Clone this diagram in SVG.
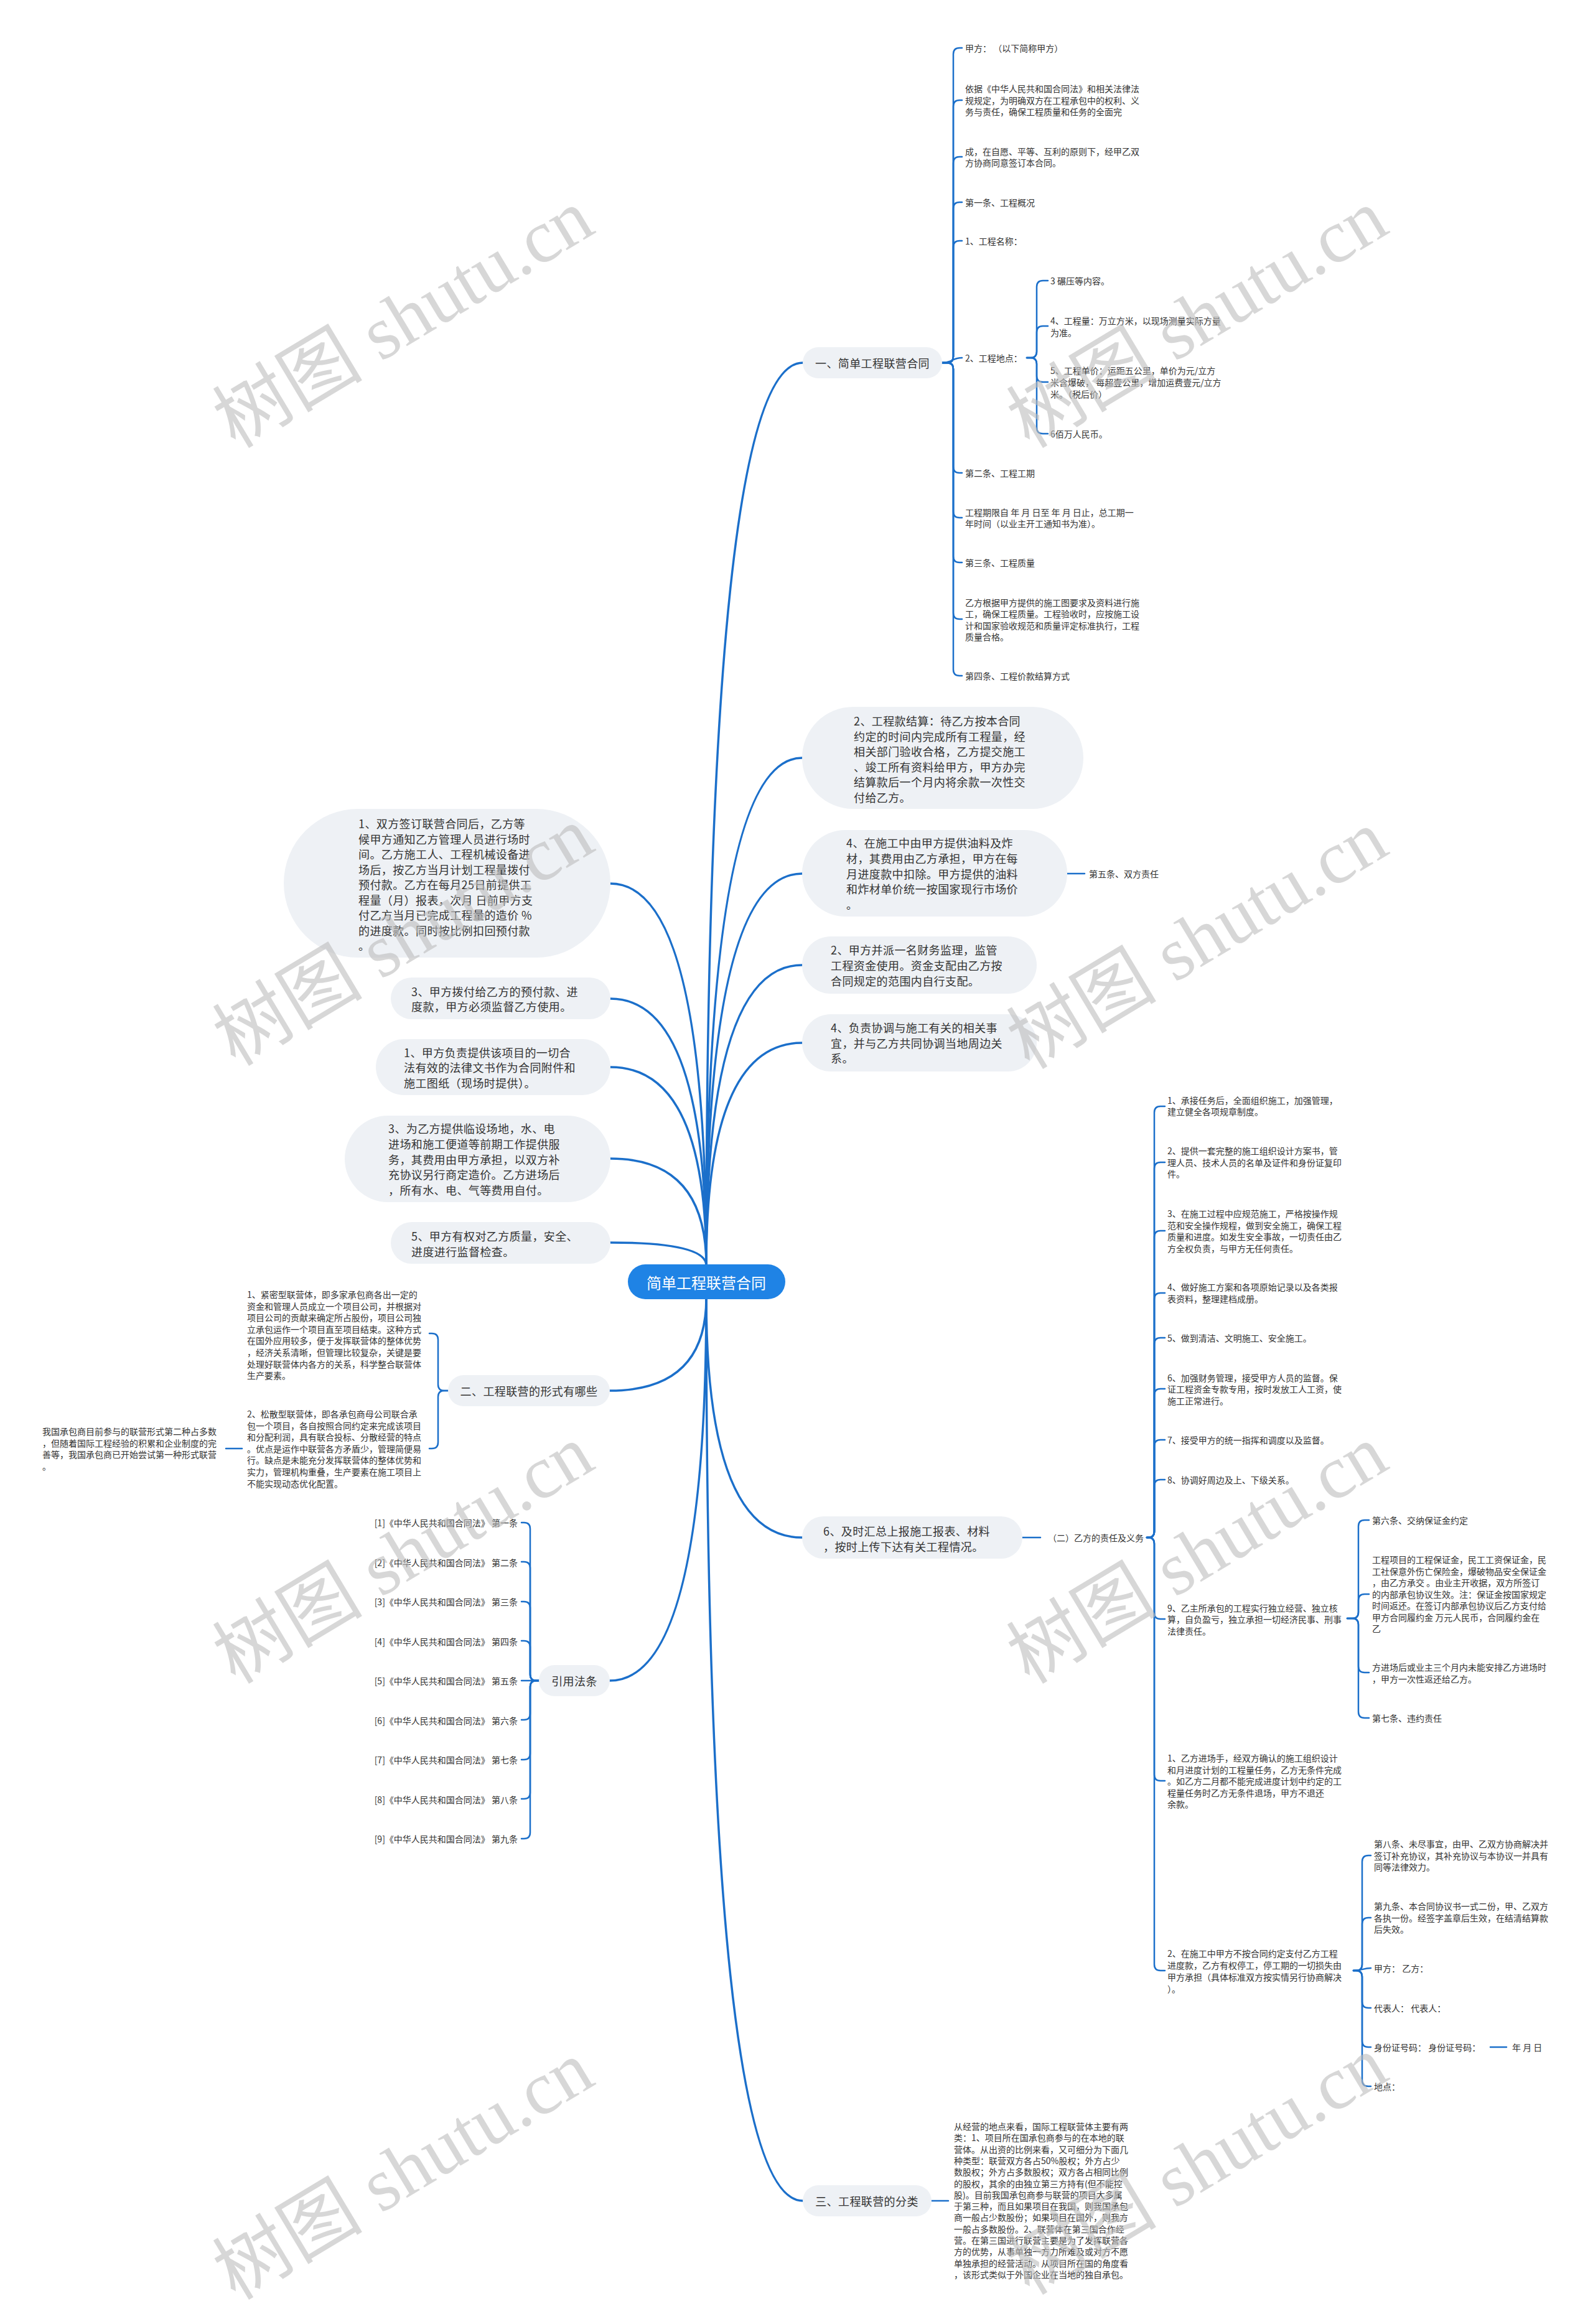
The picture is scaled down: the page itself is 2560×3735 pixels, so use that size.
<svg xmlns="http://www.w3.org/2000/svg" width="2560" height="3735" viewBox="0 0 2560 3735">
<style>
text{font-family:"Noto Sans CJK SC","Noto Sans",sans-serif;fill:#333;dominant-baseline:central}
tspan{dominant-baseline:central}
.s{font-size:14px}
.p{font-size:18px;letter-spacing:0.4px}
.pill{fill:#eef1f5}
.c{fill:none;stroke:#1b6fca;stroke-width:2.5;stroke-linecap:round}
.m{fill:none;stroke:#1b6fca;stroke-width:3.5;stroke-linecap:round}
.wm{font-family:"Liberation Serif","Noto Sans CJK SC",serif;font-size:121px;fill:#bcbcbc;fill-opacity:0.6}
</style>
<rect width="2560" height="3735" fill="#ffffff"/>

<g id="connectors">
<path class="m" d="M1135 2034Q1135 583 1290 583"/>
<path class="m" d="M1135 2034Q1135 1218 1289 1218"/>
<path class="m" d="M1135 2034Q1135 1404 1289 1404"/>
<path class="m" d="M1135 2034Q1135 1551 1289 1551"/>
<path class="m" d="M1135 2034Q1135 1676 1289 1676"/>
<path class="m" d="M1135 2034Q1135 1420 981 1420"/>
<path class="m" d="M1135 2034Q1135 1605 981 1605"/>
<path class="m" d="M1135 2034Q1135 1715 981 1715"/>
<path class="m" d="M1135 2034Q1135 1862 981 1862"/>
<path class="m" d="M1135 2034Q1135 1997 981 1997"/>
<path class="m" d="M1135 2086Q1135 2235 980 2235"/>
<path class="m" d="M1135 2086Q1135 2701 980 2701"/>
<path class="m" d="M1135 2086Q1135 2471 1289 2471"/>
<path class="m" d="M1135 2086Q1135 3537 1290 3537"/>

<!-- branch 1 -->
<path class="c" d="M1514 583H1522Q1532 583 1532 573V87Q1532 77 1542 77H1546"/>
<path class="c" d="M1514 583H1522Q1532 583 1532 573V171Q1532 161 1542 161H1546"/>
<path class="c" d="M1514 583H1522Q1532 583 1532 573V262Q1532 252 1542 252H1546"/>
<path class="c" d="M1514 583H1522Q1532 583 1532 573V335Q1532 325 1542 325H1546"/>
<path class="c" d="M1514 583H1522Q1532 583 1532 573V397Q1532 387 1542 387H1546"/>
<path class="c" d="M1514 583C1530 583 1530 575 1546 575"/>
<path class="c" d="M1514 583H1522Q1532 583 1532 593V750Q1532 760 1542 760H1546"/>
<path class="c" d="M1514 583H1522Q1532 583 1532 593V822Q1532 832 1542 832H1546"/>
<path class="c" d="M1514 583H1522Q1532 583 1532 593V894Q1532 904 1542 904H1546"/>
<path class="c" d="M1514 583H1522Q1532 583 1532 593V985Q1532 995 1542 995H1546"/>
<path class="c" d="M1514 583H1522Q1532 583 1532 593V1076Q1532 1086 1542 1086H1546"/>
<path class="c" d="M1650 575H1656Q1666 575 1666 565V461Q1666 451 1676 451H1684"/>
<path class="c" d="M1650 575H1656Q1666 575 1666 565V534Q1666 524 1676 524H1684"/>
<path class="c" d="M1650 575H1656Q1666 575 1666 585V604Q1666 614 1676 614H1684"/>
<path class="c" d="M1650 575H1656Q1666 575 1666 585V687Q1666 697 1676 697H1684"/>

<!-- R2 to 第五条 -->
<path class="c" d="M1715 1404H1743"/>

<!-- 二 -->
<path class="c" d="M720 2235H714Q704 2235 704 2225V2153Q704 2143 694 2143H690"/>
<path class="c" d="M720 2235H714Q704 2235 704 2245V2318Q704 2328 694 2328H690"/>
<path class="c" d="M389 2328H363"/>

<!-- 引用法条 -->
<path class="c" d="M866 2701H862Q852 2701 852 2691V2457Q852 2447 842 2447H838"/>
<path class="c" d="M866 2701H862Q852 2701 852 2691V2520Q852 2510 842 2510H838"/>
<path class="c" d="M866 2701H862Q852 2701 852 2691V2584Q852 2574 842 2574H838"/>
<path class="c" d="M866 2701H862Q852 2701 852 2691V2647Q852 2637 842 2637H838"/>
<path class="c" d="M866 2701H838"/>
<path class="c" d="M866 2701H862Q852 2701 852 2711V2754Q852 2764 842 2764H838"/>
<path class="c" d="M866 2701H862Q852 2701 852 2711V2818Q852 2828 842 2828H838"/>
<path class="c" d="M866 2701H862Q852 2701 852 2711V2881Q852 2891 842 2891H838"/>
<path class="c" d="M866 2701H862Q852 2701 852 2711V2945Q852 2955 842 2955H838"/>

<!-- (二) -->
<path class="c" d="M1643 2471H1672"/>
<path class="c" d="M1843 2471H1845Q1855 2471 1855 2461V1788Q1855 1778 1865 1778H1872"/>
<path class="c" d="M1843 2471H1845Q1855 2471 1855 2461V1878Q1855 1868 1865 1868H1872"/>
<path class="c" d="M1843 2471H1845Q1855 2471 1855 2461V1988Q1855 1978 1865 1978H1872"/>
<path class="c" d="M1843 2471H1845Q1855 2471 1855 2461V2088Q1855 2078 1865 2078H1872"/>
<path class="c" d="M1843 2471H1845Q1855 2471 1855 2461V2160Q1855 2150 1865 2150H1872"/>
<path class="c" d="M1843 2471H1845Q1855 2471 1855 2461V2242Q1855 2232 1865 2232H1872"/>
<path class="c" d="M1843 2471H1845Q1855 2471 1855 2461V2324Q1855 2314 1865 2314H1872"/>
<path class="c" d="M1843 2471H1845Q1855 2471 1855 2461V2388Q1855 2378 1865 2378H1872"/>
<path class="c" d="M1843 2471H1845Q1855 2471 1855 2481V2592Q1855 2602 1865 2602H1872"/>
<path class="c" d="M1843 2471H1845Q1855 2471 1855 2481V2852Q1855 2862 1865 2862H1872"/>
<path class="c" d="M1843 2471H1845Q1855 2471 1855 2481V3157Q1855 3167 1865 3167H1872"/>

<!-- item 9 -->
<path class="c" d="M2165 2601H2173Q2183 2601 2183 2591V2453Q2183 2443 2193 2443H2200"/>
<path class="c" d="M2165 2601H2173Q2183 2601 2183 2591V2572Q2183 2562 2193 2562H2200"/>
<path class="c" d="M2165 2601H2173Q2183 2601 2183 2611V2678Q2183 2688 2193 2688H2200"/>
<path class="c" d="M2165 2601H2173Q2183 2601 2183 2611V2751Q2183 2761 2193 2761H2200"/>

<!-- item 2 在施工中 -->
<path class="c" d="M2175 3167H2179Q2189 3167 2189 3157V2992Q2189 2982 2199 2982H2203"/>
<path class="c" d="M2175 3167H2179Q2189 3167 2189 3157V3092Q2189 3082 2199 3082H2203"/>
<path class="c" d="M2175 3167C2190 3167 2190 3163 2203 3163"/>
<path class="c" d="M2175 3167H2179Q2189 3167 2189 3177V3217Q2189 3227 2199 3227H2203"/>
<path class="c" d="M2175 3167H2179Q2189 3167 2189 3177V3280Q2189 3290 2199 3290H2203"/>
<path class="c" d="M2175 3167H2179Q2189 3167 2189 3177V3343Q2189 3353 2199 3353H2203"/>
<path class="c" d="M2395 3290H2421"/>

<!-- 三 -->
<path class="c" d="M1497 3537H1524"/>
</g>

<g id="center">
<rect x="1009" y="2032" width="253" height="56" rx="28" fill="#1f83e5"/>
<text x="1135" y="2060" text-anchor="middle" style="font-size:24px;fill:#ffffff">简单工程联营合同</text>
</g>

<g id="n-b1">
<rect class="pill" x="1290" y="558" width="224" height="50" rx="25"/>
<text class="p" x="1402" y="583" text-anchor="middle">一、简单工程联营合同</text>
</g>
<g id="n-b1-items">
<text class="s" x="1551" y="77">甲方： （以下简称甲方）</text>
<text class="s"><tspan x="1551" y="142">依据《中华人民共和国合同法》和相关法律法</tspan><tspan x="1551" y="161">规规定，为明确双方在工程承包中的权利、义</tspan><tspan x="1551" y="179">务与责任，确保工程质量和任务的全面完</tspan></text>
<text class="s"><tspan x="1551" y="243">成，在自愿、平等、互利的原则下，经甲乙双</tspan><tspan x="1551" y="261">方协商同意签订本合同。</tspan></text>
<text class="s" x="1551" y="325">第一条、工程概况</text>
<text class="s" x="1551" y="387">1、工程名称：</text>
<text class="s" x="1551" y="575">2、工程地点：</text>
<text class="s" x="1551" y="760">第二条、工程工期</text>
<text class="s"><tspan x="1551" y="823">工程期限自 年 月 日至 年 月 日止，总工期一</tspan><tspan x="1551" y="841">年时间（以业主开工通知书为准）。</tspan></text>
<text class="s" x="1551" y="904">第三条、工程质量</text>
<text class="s"><tspan x="1551" y="968">乙方根据甲方提供的施工图要求及资料进行施</tspan><tspan x="1551" y="986">工，确保工程质量。工程验收时，应按施工设</tspan><tspan x="1551" y="1005">计和国家验收规范和质量评定标准执行，工程</tspan><tspan x="1551" y="1023">质量合格。</tspan></text>
<text class="s" x="1551" y="1086">第四条、工程价款结算方式</text>
<text class="s" x="1688" y="451">3 碾压等内容。</text>
<text class="s"><tspan x="1688" y="515">4、工程量：万立方米，以现场测量实际方量</tspan><tspan x="1688" y="534">为准。</tspan></text>
<text class="s"><tspan x="1688" y="595">5、工程单价：运距五公里，单价为元/立方</tspan><tspan x="1688" y="614">米含爆破， 每超壹公里，增加运费壹元/立方</tspan><tspan x="1688" y="633">米。（税后价）</tspan></text>
<text class="s" x="1688" y="697">6佰万人民币。</text>
</g>

<g id="n-p1">
<rect class="pill" x="456" y="1300" width="525" height="239" rx="119.5"/>
<text class="p"><tspan x="576" y="1323">1、双方签订联营合同后，乙方等</tspan><tspan x="576" y="1347.5">候甲方通知乙方管理人员进行场时</tspan><tspan x="576" y="1372">间。乙方施工人、工程机械设备进</tspan><tspan x="576" y="1396.5">场后，按乙方当月计划工程量拨付</tspan><tspan x="576" y="1421">预付款。乙方在每月25日前提供工</tspan><tspan x="576" y="1445.5">程量（月）报表，次月 日前甲方支</tspan><tspan x="576" y="1470">付乙方当月已完成工程量的造价 %</tspan><tspan x="576" y="1494.5">的进度款。同时按比例扣回预付款</tspan><tspan x="576" y="1519">。</tspan></text>
</g>
<g id="n-p2">
<rect class="pill" x="628" y="1571" width="353" height="67" rx="33.5"/>
<text class="p"><tspan x="661" y="1593">3、甲方拨付给乙方的预付款、进</tspan><tspan x="661" y="1617">度款，甲方必须监督乙方使用。</tspan></text>
</g>
<g id="n-p3">
<rect class="pill" x="604" y="1670" width="377" height="90" rx="45"/>
<text class="p"><tspan x="649" y="1691">1、甲方负责提供该项目的一切合</tspan><tspan x="649" y="1715">法有效的法律文书作为合同附件和</tspan><tspan x="649" y="1740">施工图纸（现场时提供）。</tspan></text>
</g>
<g id="n-p4">
<rect class="pill" x="554" y="1793" width="427" height="139" rx="69.5"/>
<text class="p"><tspan x="624" y="1813">3、为乙方提供临设场地，水、电</tspan><tspan x="624" y="1838">进场和施工便道等前期工作提供服</tspan><tspan x="624" y="1863">务，其费用由甲方承担，以双方补</tspan><tspan x="624" y="1887">充协议另行商定造价。乙方进场后</tspan><tspan x="624" y="1912">，所有水、电、气等费用自付。</tspan></text>
</g>
<g id="n-p5">
<rect class="pill" x="628" y="1964" width="353" height="67" rx="33.5"/>
<text class="p"><tspan x="661" y="1986">5、甲方有权对乙方质量，安全、</tspan><tspan x="661" y="2011">进度进行监督检查。</tspan></text>
</g>

<g id="n-r1">
<rect class="pill" x="1289" y="1136" width="452" height="164" rx="82"/>
<text class="p"><tspan x="1372" y="1158">2、工程款结算：待乙方按本合同</tspan><tspan x="1372" y="1182.5">约定的时间内完成所有工程量，经</tspan><tspan x="1372" y="1207">相关部门验收合格，乙方提交施工</tspan><tspan x="1372" y="1231.5">、竣工所有资料给甲方，甲方办完</tspan><tspan x="1372" y="1256">结算款后一个月内将余款一次性交</tspan><tspan x="1372" y="1280.5">付给乙方。</tspan></text>
</g>
<g id="n-r2">
<rect class="pill" x="1289" y="1334" width="426" height="139" rx="69.5"/>
<text class="p"><tspan x="1360" y="1354">4、在施工中由甲方提供油料及炸</tspan><tspan x="1360" y="1379">材，其费用由乙方承担，甲方在每</tspan><tspan x="1360" y="1404">月进度款中扣除。甲方提供的油料</tspan><tspan x="1360" y="1428">和炸材单价统一按国家现行市场价</tspan><tspan x="1360" y="1453">。</tspan></text>
</g>
<g id="n-r2-child">
<text class="s" x="1750" y="1404">第五条、双方责任</text>
</g>
<g id="n-r3">
<rect class="pill" x="1289" y="1505" width="377" height="92" rx="46"/>
<text class="p"><tspan x="1335" y="1526">2、甲方并派一名财务监理，监管</tspan><tspan x="1335" y="1551">工程资金使用。资金支配由乙方按</tspan><tspan x="1335" y="1576">合同规定的范围内自行支配。</tspan></text>
</g>
<g id="n-r4">
<rect class="pill" x="1289" y="1630" width="377" height="92" rx="46"/>
<text class="p"><tspan x="1335" y="1651">4、负责协调与施工有关的相关事</tspan><tspan x="1335" y="1676">宜，并与乙方共同协调当地周边关</tspan><tspan x="1335" y="1700">系。</tspan></text>
</g>
<g id="n-r5">
<rect class="pill" x="1289" y="2437" width="354" height="68" rx="34"/>
<text class="p"><tspan x="1323" y="2460">6、及时汇总上报施工报表、材料</tspan><tspan x="1323" y="2485">，按时上传下达有关工程情况。</tspan></text>
</g>

<g id="n-yi">
<text class="s" x="1684" y="2471">（二）乙方的责任及义务</text>
<text class="s"><tspan x="1876" y="1768">1、承接任务后，全面组织施工，加强管理，</tspan><tspan x="1876" y="1786">建立健全各项规章制度。</tspan></text>
<text class="s"><tspan x="1876" y="1849">2、提供一套完整的施工组织设计方案书，管</tspan><tspan x="1876" y="1868">理人员、技术人员的名单及证件和身份证复印</tspan><tspan x="1876" y="1886">件。</tspan></text>
<text class="s"><tspan x="1876" y="1950">3、在施工过程中应规范施工，严格按操作规</tspan><tspan x="1876" y="1968.5">范和安全操作规程，做到安全施工，确保工程</tspan><tspan x="1876" y="1987">质量和进度。如发生安全事故，一切责任由乙</tspan><tspan x="1876" y="2005.5">方全权负责，与甲方无任何责任。</tspan></text>
<text class="s"><tspan x="1876" y="2068">4、做好施工方案和各项原始记录以及各类报</tspan><tspan x="1876" y="2087">表资料，整理建档成册。</tspan></text>
<text class="s" x="1876" y="2150">5、做到清洁、文明施工、安全施工。</text>
<text class="s"><tspan x="1876" y="2213.5">6、加强财务管理，接受甲方人员的监督。保</tspan><tspan x="1876" y="2232">证工程资金专款专用，按时发放工人工资，使</tspan><tspan x="1876" y="2250.5">施工正常进行。</tspan></text>
<text class="s" x="1876" y="2314">7、接受甲方的统一指挥和调度以及监督。</text>
<text class="s" x="1876" y="2378">8、协调好周边及上、下级关系。</text>
<text class="s"><tspan x="1876" y="2583.5">9、乙主所承包的工程实行独立经营、独立核</tspan><tspan x="1876" y="2602">算，自负盈亏，独立承担一切经济民事、刑事</tspan><tspan x="1876" y="2620.5">法律责任。</tspan></text>
<text class="s"><tspan x="1876" y="2825">1、乙方进场手，经双方确认的施工组织设计</tspan><tspan x="1876" y="2843.5">和月进度计划的工程量任务，乙方无条件完成</tspan><tspan x="1876" y="2862">。如乙方二月都不能完成进度计划中约定的工</tspan><tspan x="1876" y="2880.5">程量任务时乙方无条件退场，甲方不退还</tspan><tspan x="1876" y="2899">余款。</tspan></text>
<text class="s"><tspan x="1876" y="3139">2、在施工中甲方不按合同约定支付乙方工程</tspan><tspan x="1876" y="3158">进度款，乙方有权停工，停工期的一切损失由</tspan><tspan x="1876" y="3177">甲方承担（具体标准双方按实情另行协商解决</tspan><tspan x="1876" y="3196">）。</tspan></text>
</g>
<g id="n-item9-children">
<text class="s" x="2205" y="2443">第六条、交纳保证金约定</text>
<text class="s"><tspan x="2205" y="2506">工程项目的工程保证金，民工工资保证金，民</tspan><tspan x="2205" y="2524.5">工社保意外伤亡保险金，爆破物品安全保证金</tspan><tspan x="2205" y="2543">，由乙方承交 。由业主开收据，双方所签订</tspan><tspan x="2205" y="2561.5">的内部承包协议生效。注：保证金按国家规定</tspan><tspan x="2205" y="2580">时间返还。在签订内部承包协议后乙方支付给</tspan><tspan x="2205" y="2598.5">甲方合同履约金 万元人民币，合同履约金在</tspan><tspan x="2205" y="2617">乙</tspan></text>
<text class="s"><tspan x="2205" y="2679">方进场后或业主三个月内未能安排乙方进场时</tspan><tspan x="2205" y="2697.5">，甲方一次性返还给乙方。</tspan></text>
<text class="s" x="2205" y="2761">第七条、违约责任</text>
</g>
<g id="n-item2-children">
<text class="s"><tspan x="2208" y="2963">第八条、未尽事宜，由甲、乙双方协商解决并</tspan><tspan x="2208" y="2981.5">签订补充协议，其补充协议与本协议一并具有</tspan><tspan x="2208" y="3000">同等法律效力。</tspan></text>
<text class="s"><tspan x="2208" y="3063">第九条、本合同协议书一式二份，甲、乙双方</tspan><tspan x="2208" y="3081.5">各执一份。经签字盖章后生效，在结清结算款</tspan><tspan x="2208" y="3100">后失效。</tspan></text>
<text class="s" x="2208" y="3163">甲方： 乙方：</text>
<text class="s" x="2208" y="3227">代表人： 代表人：</text>
<text class="s" x="2208" y="3290">身份证号码： 身份证号码：</text>
<text class="s" x="2430" y="3290">年 月 日</text>
<text class="s" x="2208" y="3353">地点：</text>
</g>

<g id="n-er">
<rect class="pill" x="720" y="2210" width="260" height="50" rx="25"/>
<text class="p" x="850" y="2235" text-anchor="middle">二、工程联营的形式有哪些</text>
<text class="s"><tspan x="397" y="2080">1、紧密型联营体，即多家承包商各出一定的</tspan><tspan x="397" y="2098.6">资金和管理人员成立一个项目公司，并根据对</tspan><tspan x="397" y="2117.2">项目公司的贡献来确定所占股份，项目公司独</tspan><tspan x="397" y="2135.8">立承包运作一个项目直至项目结束。这种方式</tspan><tspan x="397" y="2154.4">在国外应用较多，便于发挥联营体的整体优势</tspan><tspan x="397" y="2173">，经济关系清晰，但管理比较复杂，关键是要</tspan><tspan x="397" y="2191.6">处理好联营体内各方的关系，科学整合联营体</tspan><tspan x="397" y="2210.2">生产要素。</tspan></text>
<text class="s"><tspan x="397" y="2272">2、松散型联营体，即各承包商母公司联合承</tspan><tspan x="397" y="2290.6">包一个项目，各自按照合同约定来完成该项目</tspan><tspan x="397" y="2309.2">和分配利润，具有联合投标、分散经营的特点</tspan><tspan x="397" y="2327.8">。优点是运作中联营各方矛盾少，管理简便易</tspan><tspan x="397" y="2346.4">行。缺点是未能充分发挥联营体的整体优势和</tspan><tspan x="397" y="2365">实力，管理机构重叠，生产要素在施工项目上</tspan><tspan x="397" y="2383.6">不能实现动态优化配置。</tspan></text>
<text class="s"><tspan x="68" y="2300">我国承包商目前参与的联营形式第二种占多数</tspan><tspan x="68" y="2318.6">，但随着国际工程经验的积累和企业制度的完</tspan><tspan x="68" y="2337.2">善等，我国承包商已开始尝试第一种形式联营</tspan><tspan x="68" y="2355.8">。</tspan></text>
</g>

<g id="n-law">
<rect class="pill" x="866" y="2676" width="114" height="50" rx="25"/>
<text class="p" x="923" y="2701" text-anchor="middle">引用法条</text>
<text class="s" text-anchor="end"><tspan x="832" y="2447">[1]《中华人民共和国合同法》 第一条</tspan><tspan x="832" y="2510.5">[2]《中华人民共和国合同法》 第二条</tspan><tspan x="832" y="2574">[3]《中华人民共和国合同法》 第三条</tspan><tspan x="832" y="2637.5">[4]《中华人民共和国合同法》 第四条</tspan><tspan x="832" y="2701">[5]《中华人民共和国合同法》 第五条</tspan><tspan x="832" y="2764.5">[6]《中华人民共和国合同法》 第六条</tspan><tspan x="832" y="2828">[7]《中华人民共和国合同法》 第七条</tspan><tspan x="832" y="2891.5">[8]《中华人民共和国合同法》 第八条</tspan><tspan x="832" y="2955">[9]《中华人民共和国合同法》 第九条</tspan></text>
</g>

<g id="n-san">
<rect class="pill" x="1290" y="3512" width="207" height="50" rx="25"/>
<text class="p" x="1393" y="3537" text-anchor="middle">三、工程联营的分类</text>
<text class="s"><tspan x="1533" y="3417">从经营的地点来看，国际工程联营体主要有两</tspan><tspan x="1533" y="3435.3">类：1、项目所在国承包商参与的在本地的联</tspan><tspan x="1533" y="3453.6">营体。从出资的比例来看，又可细分为下面几</tspan><tspan x="1533" y="3471.9">种类型：联营双方各占50%股权；外方占少</tspan><tspan x="1533" y="3490.2">数股权；外方占多数股权；双方各占相同比例</tspan><tspan x="1533" y="3508.5">的股权，其余的由独立第三方持有(但不能控</tspan><tspan x="1533" y="3526.8">股)。目前我国承包商参与联营的项目大多属</tspan><tspan x="1533" y="3545.1">于第三种，而且如果项目在我国，则我国承包</tspan><tspan x="1533" y="3563.4">商一般占少数股份；如果项目在国外，则我方</tspan><tspan x="1533" y="3581.7">一般占多数股份。2、联营体在第三国合作经</tspan><tspan x="1533" y="3600">营。在第三国进行联营主要是为了发挥联营各</tspan><tspan x="1533" y="3618.3">方的优势，从事单独一方力所难及或对方不愿</tspan><tspan x="1533" y="3636.6">单独承担的经营活动。从项目所在国的角度看</tspan><tspan x="1533" y="3655">，该形式类似于外国企业在当地的独自承包。</tspan></text>
</g>

<g id="watermark">
<text class="wm" text-anchor="middle" transform="translate(648 512) rotate(-31)">树图 shutu.cn</text>
<text class="wm" text-anchor="middle" transform="translate(1924 512) rotate(-31)">树图 shutu.cn</text>
<text class="wm" text-anchor="middle" transform="translate(648 1505) rotate(-31)">树图 shutu.cn</text>
<text class="wm" text-anchor="middle" transform="translate(1924 1510) rotate(-31)">树图 shutu.cn</text>
<text class="wm" text-anchor="middle" transform="translate(648 2498) rotate(-31)">树图 shutu.cn</text>
<text class="wm" text-anchor="middle" transform="translate(1924 2498) rotate(-31)">树图 shutu.cn</text>
<text class="wm" text-anchor="middle" transform="translate(648 3488) rotate(-31)">树图 shutu.cn</text>
<text class="wm" text-anchor="middle" transform="translate(1924 3480) rotate(-31)">树图 shutu.cn</text>
</g>
</svg>
